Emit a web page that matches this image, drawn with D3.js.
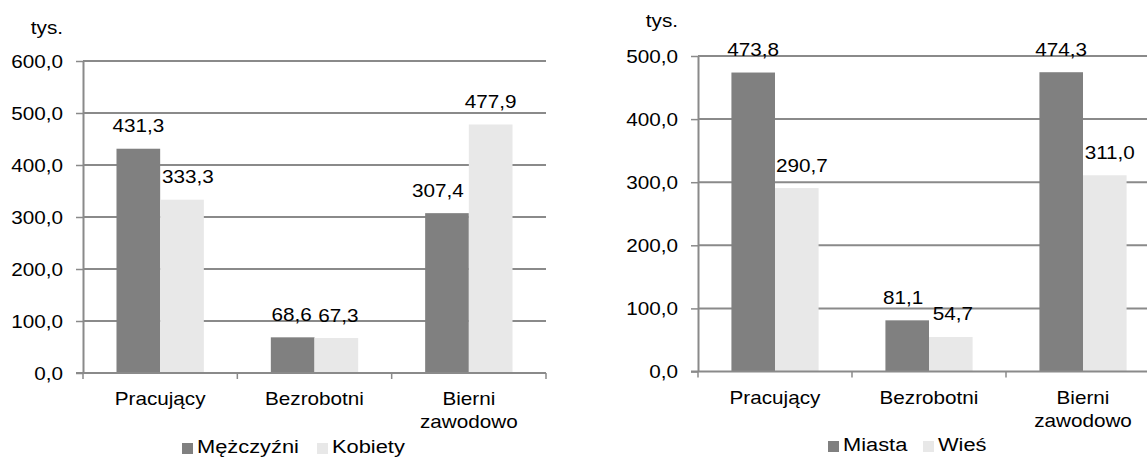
<!DOCTYPE html>
<html>
<head>
<meta charset="utf-8">
<script src="https://cdn.jsdelivr.net/npm/d3@7"></script>
<style>
  body { margin: 0; background: #fff; }
  svg { display: block; font-family: "Liberation Sans", Arial, sans-serif; }
  text { fill: #000; }
  /* the reference text is a little wider than Arial, stretch it */
  text.sx { transform-box: fill-box; transform: scaleX(1.15); }
  text.sx-end { transform-origin: right center; }
  text.sx-mid { transform-origin: center center; }
  text.sx-start { transform-origin: left center; }
</style>
</head>
<body>
<svg id="chart" width="1147" height="457"></svg>
<script>
var categories = ["Pracujący", "Bezrobotni", "Bierni zawodowo"];

var sexSeries = ["Mężczyźni", "Kobiety"];
var men = [431.3, 68.6, 307.4];
var women = [333.3, 67.3, 477.9];
var sexTicks = [0, 100, 200, 300, 400, 500, 600];

var placeSeries = ["Miasta", "Wieś"];
var towns = [473.8, 81.1, 474.3];
var villages = [290.7, 54.7, 311.0];
var placeTicks = [0, 100, 200, 300, 400, 500];

var unit = "tys.";
var colors = ["#808080", "#e8e8e8"];

var svg = d3.select("#chart");

var fmt = function(v) { return d3.format(".1f")(v).replace(".", ","); };

function drawChart(cfg) {
  var g = svg.append("g");

  var x0 = d3.scaleBand()
    .domain(categories)
    .range([cfg.left, cfg.right])
    .paddingInner(0.434)
    .paddingOuter(0.217);

  var x1 = d3.scaleBand()
    .domain([0, 1])
    .range([0, x0.bandwidth()]);

  var y = d3.scaleLinear()
    .domain([0, d3.max(cfg.ticks)])
    .range([cfg.bottom, cfg.top]);

  // gridlines
  g.selectAll(".grid")
    .data(cfg.ticks.slice(1))
    .enter().append("line")
    .attr("x1", cfg.left)
    .attr("x2", cfg.right)
    .attr("y1", function(d) { return y(d); })
    .attr("y2", function(d) { return y(d); })
    .attr("stroke", "#8a8a8a")
    .attr("stroke-width", 2);

  // bars
  var series = [cfg.a, cfg.b];
  series.forEach(function(vals, s) {
    g.selectAll(".bar" + s)
      .data(vals)
      .enter().append("rect")
      .attr("x", function(d, i) { return x0(categories[i]) + x1(s); })
      .attr("y", function(d) { return y(d); })
      .attr("width", x1.bandwidth())
      .attr("height", function(d) { return y(0) - y(d); })
      .attr("fill", colors[s]);

    g.selectAll(".lab" + s)
      .data(vals)
      .enter().append("text")
      .attr("class", "sx sx-mid")
      .attr("x", function(d, i) { return x0(categories[i]) + x1(s) + x1.bandwidth() / 2 + cfg.nudge[s][i]; })
      .attr("y", function(d) { return y(d) - 16.5; })
      .attr("text-anchor", "middle")
      .attr("font-size", "18px")
      .text(function(d) { return fmt(d); });
  });

  // y axis
  var yAxis = g.append("g")
    .attr("transform", "translate(" + cfg.left + ",0)")
    .call(d3.axisLeft(y)
      .tickValues(cfg.ticks)
      .tickSize(7)
      .tickSizeOuter(0)
      .tickFormat(fmt));
  yAxis.select(".domain").attr("stroke", "#8a8a8a").attr("stroke-width", 2);
  yAxis.selectAll(".tick line").attr("stroke", "#8a8a8a").attr("stroke-width", 1.5);
  yAxis.selectAll(".tick text")
    .attr("class", "sx sx-end")
    .attr("x", -20)
    .attr("dy", "0.36em")
    .attr("font-size", "18px")
    .attr("font-family", null);

  // x axis line and category ticks
  g.append("line")
    .attr("x1", cfg.left - 7)
    .attr("x2", cfg.right)
    .attr("y1", y(0))
    .attr("y2", y(0))
    .attr("stroke", "#8a8a8a")
    .attr("stroke-width", 2);

  var step = x0.step();
  g.selectAll(".xtick")
    .data(d3.range(categories.length + 1))
    .enter().append("line")
    .attr("x1", function(i) { return cfg.left + i * step; })
    .attr("x2", function(i) { return cfg.left + i * step; })
    .attr("y1", y(0))
    .attr("y2", y(0) + 6)
    .attr("stroke", "#8a8a8a")
    .attr("stroke-width", 1.5);

  // category labels, wrapped on the space for the long one
  categories.forEach(function(c, i) {
    var words = c.indexOf(" ") > 0 && c.length > 12 ? c.split(" ") : [c];
    var t = g.append("text")
      .attr("class", "sx sx-mid")
      .attr("text-anchor", "middle")
      .attr("font-size", "18px")
      .attr("x", x0(c) + x0.bandwidth() / 2)
      .attr("y", cfg.catY);
    words.forEach(function(w, k) {
      t.append("tspan")
        .attr("x", x0(c) + x0.bandwidth() / 2)
        .attr("dy", k === 0 ? 0 : 23.5)
        .text(w);
    });
  });

  // unit
  g.append("text")
    .attr("class", "sx sx-end")
    .attr("text-anchor", "end")
    .attr("font-size", "18px")
    .attr("x", cfg.left - 20)
    .attr("y", cfg.unitY)
    .text(unit);

  // legend
  cfg.names.forEach(function(n, s) {
    var lx = cfg.legend[s];
    g.append("rect")
      .attr("x", lx)
      .attr("y", cfg.legendY - 10)
      .attr("width", 11)
      .attr("height", 11)
      .attr("fill", colors[s]);
    g.append("text")
      .attr("class", "sx sx-start")
      .attr("font-size", "19px")
      .attr("x", lx + 15)
      .attr("y", cfg.legendY)
      .text(n);
  });
}

drawChart({
  a: men, b: women, names: sexSeries, ticks: sexTicks,
  left: 83, right: 546, top: 61, bottom: 373,
  catY: 405, unitY: 34, legendY: 453, legend: [182, 317],
  nudge: [[0, -1, -9], [6, 2, 0]]
});

drawChart({
  a: towns, b: villages, names: placeSeries, ticks: placeTicks,
  left: 698, right: 1160, top: 56, bottom: 371.5,
  catY: 404, unitY: 27, legendY: 451, legend: [828, 923],
  nudge: [[0, -4, 0], [5, 2, 5]]
});
</script>
</body>
</html>
